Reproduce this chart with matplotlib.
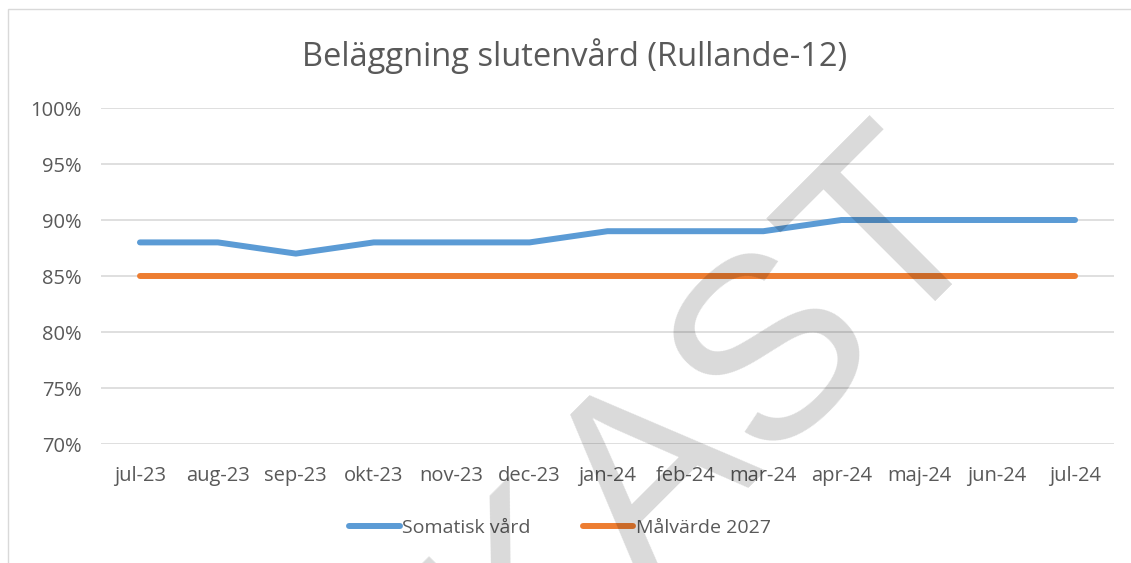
import numpy as np
import matplotlib.pyplot as plt
from matplotlib.patches import Rectangle
from matplotlib.ticker import FuncFormatter

# data
months = ['jul-23', 'aug-23', 'sep-23', 'okt-23', 'nov-23', 'dec-23', 'jan-24',
          'feb-24', 'mar-24', 'apr-24', 'maj-24', 'jun-24', 'jul-24']
somatisk = [88, 88, 87, 88, 88, 88, 89, 89, 89, 90, 90, 90, 90]
malvarde = [85, 85, 85, 85, 85, 85, 85, 85, 85, 85, 85, 85, 85]
yticks = [70, 75, 80, 85, 90, 95, 100]

plt.rcParams['font.family'] = ['Open Sans', 'DejaVu Sans']
txt = '#595959'
grid = '#d9d9d9'

W, H = 1131, 563
fig = plt.figure(figsize=(W / 100, H / 100), dpi=100)
ax = fig.add_axes([101 / W, 1 - 444 / H, (1114 - 101) / W, (444 - 108) / H])

x = np.arange(len(months))
ax.plot(x, somatisk, color='#5b9bd5', lw=4.3, solid_capstyle='round',
        solid_joinstyle='round', label='Somatisk vård', zorder=3)
ax.plot(x, malvarde, color='#ed7d31', lw=4.3, solid_capstyle='round',
        solid_joinstyle='round', label='Målvärde 2027', zorder=3)

ax.set_xlim(-0.5, len(months) - 0.5)
ax.set_ylim(70, 100)
ax.set_yticks(yticks)
ax.yaxis.set_major_formatter(FuncFormatter(lambda v, p: f'{v:.0f}%'))
ax.set_xticks(x)
ax.set_xticklabels(months)
ax.tick_params(axis='both', length=0, labelsize=14.5, labelcolor=txt)
ax.tick_params(axis='y', pad=14)
ax.tick_params(axis='x', pad=16)
ax.grid(axis='y', color=grid, lw=1.2)
ax.set_axisbelow(True)
for s in ax.spines.values():
    s.set_visible(False)

fig.text(575 / W, 1 - 56 / H, 'Beläggning slutenvård (Rullande-12)', ha='center',
         va='center', fontsize=23.5, color=txt)

fig.legend(loc='center', bbox_to_anchor=(0.495, 35 / H), ncol=2, frameon=False,
           fontsize=14, labelcolor=txt, handlelength=2.6, handletextpad=0.12,
           columnspacing=2.7)

# chart frame
fig.patches.append(Rectangle((8 / W, -0.1), 1.2, 1 - 9 / H + 0.1,
                             transform=fig.transFigure, fill=False,
                             edgecolor=grid, lw=1))

# draft watermark
fig.text(634 / W, -20 / H, 'UTKAST', rotation=45, rotation_mode='anchor',
         ha='center', va='baseline', fontsize=186, color='black', alpha=0.15,
         family='Liberation Sans', zorder=10)

fig.savefig('out.png', dpi=100)
